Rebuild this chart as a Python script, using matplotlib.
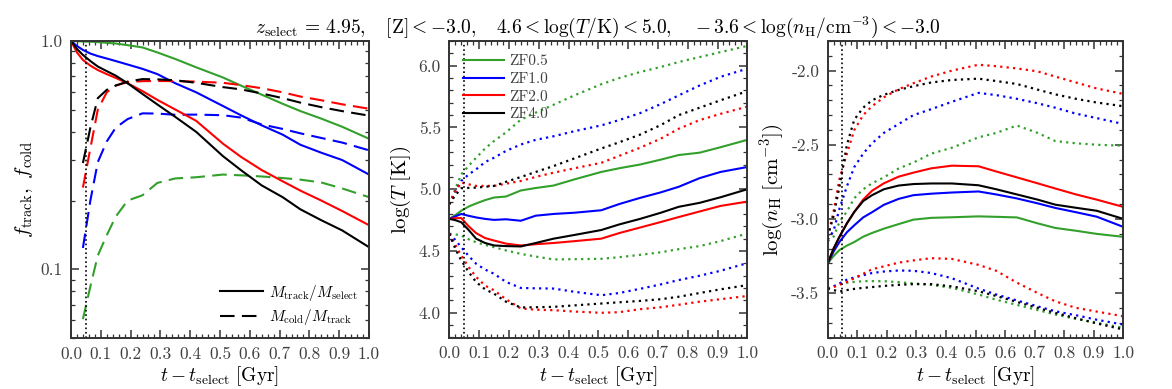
import numpy as np
import matplotlib
matplotlib.use("Agg")
import matplotlib.pyplot as plt
from matplotlib.ticker import FixedLocator, FixedFormatter, MultipleLocator, NullFormatter
from matplotlib.lines import Line2D

plt.rcParams['font.family'] = 'serif'
plt.rcParams['font.serif'] = ['cmr10', 'DejaVu Serif']
plt.rcParams['mathtext.fontset'] = 'cm'
plt.rcParams['axes.unicode_minus'] = False
plt.rcParams['axes.formatter.use_mathtext'] = True

# ---------------- data ----------------
t = [0.0, 0.02, 0.04, 0.065, 0.09, 0.12, 0.15, 0.19, 0.24, 0.29, 0.35, 0.42,
     0.51, 0.57, 0.64, 0.71, 0.77, 0.84, 0.91, 1.0]

runs = ['ZF0.5', 'ZF1.0', 'ZF2.0', 'ZF4.0']
colors = ['#33a02c', '#0000ff', '#ff0000', '#000000']

nan = np.nan
# panel 1: f_track (solid) and f_cold (dashed)
ftrack_zf05 = [1.0, 0.998, 0.995, 0.993, 0.989, 0.982, 0.975, 0.959, 0.937, 0.891, 0.834, 0.767,
               0.692, 0.638, 0.582, 0.531, 0.493, 0.457, 0.421, 0.373]
ftrack_zf10 = [1.0, 0.951, 0.914, 0.881, 0.859, 0.838, 0.817, 0.789, 0.755, 0.716, 0.653, 0.596,
               0.519, 0.473, 0.427, 0.389, 0.351, 0.324, 0.301, 0.260]
ftrack_zf20 = [1.0, 0.891, 0.826, 0.780, 0.746, 0.716, 0.689, 0.653, 0.603, 0.552, 0.501, 0.447,
               0.355, 0.311, 0.272, 0.243, 0.221, 0.200, 0.180, 0.156]
ftrack_zf40 = [1.0, 0.923, 0.869, 0.817, 0.773, 0.738, 0.705, 0.653, 0.586, 0.527, 0.465, 0.400,
               0.313, 0.272, 0.233, 0.207, 0.183, 0.164, 0.148, 0.125]

fcold_zf05 = [nan, nan, 0.0605, 0.0841, 0.115, 0.141, 0.170, 0.200, 0.211, 0.239, 0.250, 0.253,
              0.260, 0.258, 0.255, 0.251, 0.247, 0.240, 0.226, 0.207]
fcold_zf10 = [nan, nan, 0.124, 0.200, 0.295, 0.363, 0.417, 0.455, 0.482, 0.481, 0.475, 0.476,
              0.473, 0.462, 0.431, 0.412, 0.394, 0.376, 0.359, 0.332]
fcold_zf20 = [nan, nan, 0.228, 0.339, 0.501, 0.596, 0.638, 0.661, 0.667, 0.668, 0.667, 0.664,
              0.656, 0.641, 0.621, 0.596, 0.571, 0.550, 0.528, 0.505]
fcold_zf40 = [nan, nan, 0.292, 0.417, 0.562, 0.611, 0.638, 0.664, 0.681, 0.679, 0.673, 0.656,
              0.628, 0.614, 0.589, 0.562, 0.537, 0.513, 0.493, 0.471]

# panel 2: log T median (solid) and upper/lower percentiles (dotted)
logT_med_zf05 = [4.76, 4.79, 4.826, 4.86, 4.885, 4.912, 4.933, 4.941, 4.99, 5.01, 5.03, 5.08,
                 5.14, 5.17, 5.20, 5.24, 5.277, 5.296, 5.34, 5.40]
logT_med_zf10 = [4.76, 4.78, 4.80, 4.785, 4.772, 4.76, 4.752, 4.757, 4.745, 4.786, 4.80, 4.81,
                 4.83, 4.88, 4.93, 4.975, 5.02, 5.09, 5.14, 5.18]
logT_med_zf20 = [4.76, 4.765, 4.767, 4.70, 4.645, 4.605, 4.585, 4.56, 4.545, 4.555, 4.565, 4.58,
                 4.60, 4.645, 4.69, 4.735, 4.775, 4.82, 4.865, 4.90]
logT_med_zf40 = [4.76, 4.75, 4.733, 4.67, 4.60, 4.565, 4.545, 4.54, 4.537, 4.565, 4.60, 4.63,
                 4.67, 4.715, 4.76, 4.81, 4.858, 4.89, 4.935, 5.0]

logT_hi_zf05 = [4.88, 5.0, 5.12, 5.19, 5.255, 5.33, 5.39, 5.46, 5.563, 5.62, 5.684, 5.76,
                5.85, 5.90, 5.949, 5.99, 6.03, 6.07, 6.11, 6.16]
logT_hi_zf10 = [4.88, 4.98, 5.067, 5.12, 5.161, 5.22, 5.255, 5.31, 5.362, 5.40, 5.429, 5.47,
                5.517, 5.56, 5.616, 5.69, 5.76, 5.84, 5.91, 5.976]
logT_hi_zf20 = [4.88, 4.98, 5.054, 5.04, 5.027, 5.027, 5.027, 5.045, 5.067, 5.10, 5.134, 5.17,
                5.214, 5.27, 5.336, 5.41, 5.49, 5.56, 5.61, 5.669]
logT_hi_zf40 = [4.88, 4.95, 5.008, 5.011, 5.013, 5.02, 5.027, 5.06, 5.099, 5.14, 5.188, 5.25,
                5.33, 5.38, 5.442, 5.52, 5.60, 5.66, 5.72, 5.794]

logT_lo_zf05 = [4.64, 4.635, 4.625, 4.595, 4.571, 4.55, 4.531, 4.505, 4.477, 4.455, 4.432, 4.434,
                4.437, 4.45, 4.469, 4.49, 4.515, 4.54, 4.58, 4.642]
logT_lo_zf10 = [4.64, 4.59, 4.531, 4.46, 4.397, 4.35, 4.316, 4.25, 4.201, 4.198, 4.196, 4.17,
                4.142, 4.16, 4.194, 4.23, 4.265, 4.30, 4.34, 4.402]
logT_lo_zf20 = [4.64, 4.55, 4.464, 4.37, 4.29, 4.22, 4.182, 4.11, 4.035, 4.025, 4.021, 4.01,
                4.0, 4.005, 4.029, 4.045, 4.065, 4.09, 4.11, 4.136]
logT_lo_zf40 = [4.64, 4.52, 4.424, 4.33, 4.249, 4.19, 4.155, 4.09, 4.043, 4.045, 4.048, 4.06,
                4.075, 4.085, 4.096, 4.11, 4.13, 4.16, 4.19, 4.224]

# panel 3: log nH median (solid) and upper/lower percentiles (dotted)
lognH_med_zf05 = [-3.3, -3.25, -3.21, -3.18, -3.156, -3.12, -3.095, -3.066, -3.035, -3.005, -2.993, -2.989,
                  -2.983, -2.986, -2.99, -3.03, -3.061, -3.08, -3.101, -3.121]
lognH_med_zf10 = [-3.3, -3.22, -3.155, -3.09, -3.043, -2.99, -2.955, -2.905, -2.865, -2.84, -2.83, -2.822,
                  -2.815, -2.835, -2.862, -2.895, -2.926, -2.955, -2.985, -3.054]
lognH_med_zf20 = [-3.3, -3.2, -3.12, -3.03, -2.953, -2.87, -2.81, -2.76, -2.715, -2.688, -2.659, -2.641,
                  -2.645, -2.68, -2.72, -2.76, -2.795, -2.835, -2.87, -2.919]
lognH_med_zf40 = [-3.3, -3.2, -3.12, -3.03, -2.953, -2.88, -2.84, -2.80, -2.775, -2.765, -2.761, -2.761,
                  -2.773, -2.80, -2.835, -2.87, -2.904, -2.925, -2.945, -3.0]

lognH_hi_zf05 = [-3.15, -3.12, -3.02, -2.95, -2.86, -2.80, -2.76, -2.72, -2.66, -2.62, -2.56, -2.52,
                 -2.45, -2.42, -2.37, -2.42, -2.475, -2.49, -2.50, -2.506]
lognH_hi_zf10 = [-3.14, -3.08, -2.93, -2.78, -2.65, -2.56, -2.49, -2.42, -2.36, -2.30, -2.26, -2.21,
                 -2.15, -2.165, -2.19, -2.22, -2.25, -2.29, -2.32, -2.36]
lognH_hi_zf20 = [-3.12, -2.95, -2.73, -2.56, -2.40, -2.30, -2.24, -2.18, -2.125, -2.085, -2.04, -2.0,
                 -1.96, -1.97, -1.985, -2.005, -2.04, -2.08, -2.12, -2.157]
lognH_hi_zf40 = [-3.12, -2.98, -2.78, -2.50, -2.33, -2.25, -2.20, -2.163, -2.13, -2.105, -2.08, -2.063,
                 -2.054, -2.07, -2.09, -2.128, -2.16, -2.19, -2.215, -2.24]

lognH_lo_zf05 = [-3.47, -3.455, -3.44, -3.43, -3.425, -3.42, -3.42, -3.42, -3.427, -3.435, -3.445, -3.465,
                 -3.51, -3.545, -3.58, -3.615, -3.645, -3.675, -3.70, -3.735]
lognH_lo_zf10 = [-3.47, -3.455, -3.435, -3.41, -3.395, -3.38, -3.365, -3.355, -3.348, -3.35, -3.365, -3.40,
                 -3.47, -3.51, -3.55, -3.59, -3.623, -3.65, -3.68, -3.713]
lognH_lo_zf20 = [-3.47, -3.46, -3.445, -3.425, -3.40, -3.37, -3.34, -3.32, -3.295, -3.28, -3.265, -3.27,
                 -3.31, -3.35, -3.43, -3.50, -3.556, -3.60, -3.625, -3.657]
lognH_lo_zf40 = [-3.47, -3.48, -3.49, -3.48, -3.472, -3.465, -3.46, -3.452, -3.445, -3.44, -3.44, -3.455,
                 -3.488, -3.52, -3.56, -3.60, -3.634, -3.67, -3.705, -3.746]

t_select_marker = 0.05

xticks = [0.0, 0.1, 0.2, 0.3, 0.4, 0.5, 0.6, 0.7, 0.8, 0.9, 1.0]
xticklabels = ['0.0', '0.1', '0.2', '0.3', '0.4', '0.5', '0.6', '0.7', '0.8', '0.9', '1.0']
f_ticks = [0.1, 1.0]
f_ticklabels = ['0.1', '1.0']
T_ticks = [4.0, 4.5, 5.0, 5.5, 6.0]
T_ticklabels = ['4.0', '4.5', '5.0', '5.5', '6.0']
n_ticks = [-3.5, -3.0, -2.5, -2.0]
n_ticklabels = ['-3.5', '-3.0', '-2.5', '-2.0']

title = (r"$z_{\rm select}\,=\,4.95,\ \ \ [{\rm Z}]<-3.0,\ \ \ 4.6<\log(T/{\rm K})<5.0,"
         r"\ \ \ -3.6<\log(n_{\rm H}/{\rm cm^{-3}})<-3.0$")

# ---------------- plotting ----------------
fig = plt.figure(figsize=(11.72, 3.89), dpi=100)
W, H = 1172.0, 389.0
def axpos(x0, x1, y0, y1):
    return [x0 / W, 1 - y1 / H, (x1 - x0) / W, (y1 - y0) / H]

ax1 = fig.add_axes(axpos(71, 369, 41, 338))
ax2 = fig.add_axes(axpos(449.3, 747.3, 41, 337.5))
ax3 = fig.add_axes(axpos(827.7, 1123.3, 41, 337.5))

LW = 1.5
dash = (0, (7, 3.5))
dot = (0, (1, 1.9))
tick_col = '0.25'
spine_col = '0.2'

ftrack = [ftrack_zf05, ftrack_zf10, ftrack_zf20, ftrack_zf40]
fcold = [fcold_zf05, fcold_zf10, fcold_zf20, fcold_zf40]
for c, ft, fc in zip(colors, ftrack, fcold):
    ax1.plot(t, ft, color=c, lw=LW)
    ax1.plot(t, fc, color=c, lw=LW, ls=dash)
ax1.set_yscale('log')
ax1.set_ylim(0.05, 1.0)

med = [logT_med_zf05, logT_med_zf10, logT_med_zf20, logT_med_zf40]
hi = [logT_hi_zf05, logT_hi_zf10, logT_hi_zf20, logT_hi_zf40]
lo = [logT_lo_zf05, logT_lo_zf10, logT_lo_zf20, logT_lo_zf40]
for c, r, m, h, l in zip(colors, runs, med, hi, lo):
    ax2.plot(t, m, color=c, lw=LW, label=r)
    ax2.plot(t, h, color=c, lw=1.6, ls=dot)
    ax2.plot(t, l, color=c, lw=1.6, ls=dot)
ax2.set_ylim(3.8, 6.2)

med = [lognH_med_zf05, lognH_med_zf10, lognH_med_zf20, lognH_med_zf40]
hi = [lognH_hi_zf05, lognH_hi_zf10, lognH_hi_zf20, lognH_hi_zf40]
lo = [lognH_lo_zf05, lognH_lo_zf10, lognH_lo_zf20, lognH_lo_zf40]
for c, m, h, l in zip(colors, med, hi, lo):
    ax3.plot(t, m, color=c, lw=LW)
    ax3.plot(t, h, color=c, lw=1.6, ls=dot)
    ax3.plot(t, l, color=c, lw=1.6, ls=dot)
ax3.set_ylim(-3.8, -1.8)

for ax in (ax1, ax2, ax3):
    ax.axvline(t_select_marker, color='k', lw=1.2, ls=':')
    ax.set_xlim(0.0, 1.0)
    ax.xaxis.set_major_locator(FixedLocator(xticks))
    ax.xaxis.set_major_formatter(FixedFormatter(xticklabels))
    ax.xaxis.set_minor_locator(MultipleLocator(0.02))
    ax.tick_params(which='both', direction='in', top=True, right=True,
                   colors=spine_col, labelcolor=tick_col, labelsize=12.5, pad=6)
    ax.tick_params(which='major', length=6, width=1.1)
    ax.tick_params(which='minor', length=3, width=0.9)
    for s in ax.spines.values():
        s.set_color(spine_col)
        s.set_linewidth(1.4)
    ax.set_xlabel(r"$t-t_{\rm select}\ [{\rm Gyr}]$", fontsize=14, labelpad=2)

ax1.yaxis.set_major_locator(FixedLocator(f_ticks))
ax1.yaxis.set_major_formatter(FixedFormatter(f_ticklabels))
ax1.yaxis.set_minor_formatter(NullFormatter())
ax2.yaxis.set_major_locator(FixedLocator(T_ticks))
ax2.yaxis.set_major_formatter(FixedFormatter(T_ticklabels))
ax2.yaxis.set_minor_locator(MultipleLocator(0.1))
ax3.yaxis.set_major_locator(FixedLocator(n_ticks))
ax3.yaxis.set_major_formatter(FixedFormatter(n_ticklabels))
ax3.yaxis.set_minor_locator(MultipleLocator(0.1))

ax1.set_ylabel(r"$f_{\rm track},\ f_{\rm cold}$", fontsize=15)
ax2.set_ylabel(r"$\log(T\ [{\rm K}])$", fontsize=15)
ax3.set_ylabel(r"$\log(n_{\rm H}\ [{\rm cm^{-3}}])$", fontsize=15)

# legends
h1 = [Line2D([], [], color='k', lw=LW), Line2D([], [], color='k', lw=LW, ls=dash)]
ax1.legend(h1, [r"$M_{\rm track}/M_{\rm select}$", r"$M_{\rm cold}/M_{\rm track}$"],
           loc='lower right', frameon=False, fontsize=11, handlelength=2.8,
           borderaxespad=0.3, labelspacing=0.3, handletextpad=0.4)
leg2 = ax2.legend(loc='upper left', frameon=False, fontsize=11, handlelength=2.7,
                  borderaxespad=0.5, labelspacing=0.25, handletextpad=0.3)
for txt in leg2.get_texts():
    txt.set_color('0.25')

ax2.set_title(title, fontsize=14, pad=6)

fig.savefig('out.png', dpi=100)
